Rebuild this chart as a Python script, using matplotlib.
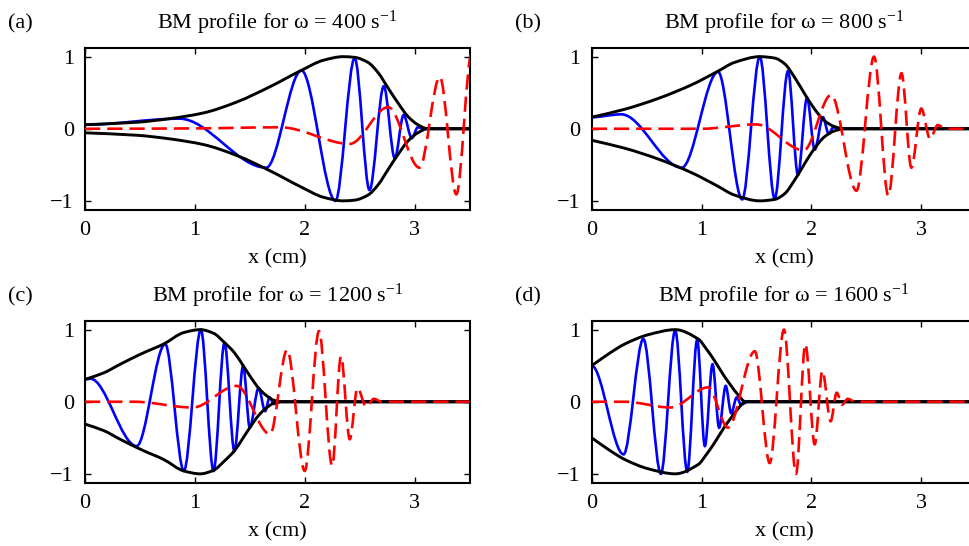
import numpy as np
import matplotlib
matplotlib.use("Agg")
import matplotlib.pyplot as plt
from matplotlib.path import Path
from matplotlib.patches import PathPatch

plt.rcParams['font.family'] = ['Liberation Serif', 'DejaVu Serif']
plt.rcParams['mathtext.fontset'] = 'custom'
plt.rcParams['mathtext.rm'] = 'Liberation Serif'
plt.rcParams['mathtext.it'] = 'Liberation Serif:italic'
plt.rcParams['lines.scale_dashes'] = False

omegas = [400, 800, 1200, 1600]
letters = ['(a)', '(b)', '(c)', '(d)']

# (a) omega = 400: envelope |w|, real part (blue), imaginary part (red, dashed)
a_env_x = [0, 0.47, 0.77, 1.08, 1.38, 1.68, 1.97, 2.17, 2.35, 2.455, 2.576, 2.667, 2.757, 2.848, 2.94, 3.03, 3.12, 3.5]
a_env_y = [0.056, 0.09, 0.14, 0.22, 0.37, 0.58, 0.81, 0.95, 1.0, 0.99, 0.92, 0.78, 0.57, 0.36, 0.17, 0.056, 0.0, 0.0]
a_re_x = [0, 0.86, 1.65, 1.97, 2.28, 2.455, 2.59, 2.72, 2.82, 2.90, 2.975, 3.03, 3.08, 3.5]
a_re_y = [0.056, 0.14, -0.54, 0.81, -1.0, 0.98, -0.85, 0.59, -0.41, 0.19, -0.13, 0.02, 0, 0]
a_im_x = [0, 1.0, 1.78, 2.41, 2.76, 3.045, 3.23, 3.38, 3.52, 3.65]
a_im_y = [0, 0.005, 0.02, -0.21, 0.30, -0.54, 0.72, -0.91, 1.05, 0.0]

# (b) omega = 800
b_env_x = [0, 0.30, 0.605, 0.91, 1.14, 1.30, 1.53, 1.666, 1.757, 1.848, 1.94, 2.03, 2.12, 2.21, 2.3, 3.5]
b_env_y = [0.16, 0.27, 0.42, 0.61, 0.79, 0.92, 1.0, 0.98, 0.90, 0.71, 0.48, 0.27, 0.11, 0.03, 0, 0]
b_re_x = [0, 0.27, 0.82, 1.15, 1.37, 1.53, 1.666, 1.787, 1.878, 1.96, 2.03, 2.105, 2.157, 2.2, 2.25, 3.5]
b_re_y = [0.16, 0.20, -0.54, 0.79, -0.98, 1.0, -0.97, 0.80, -0.64, 0.43, -0.29, 0.16, -0.07, 0.02, 0, 0]
b_im_x = [0, 1.0, 1.5, 1.93, 2.18, 2.41, 2.57, 2.70, 2.82, 2.91, 3.0, 3.08, 3.15, 3.22, 3.5]
b_im_y = [0, 0.0, 0.06, -0.30, 0.47, -0.86, 1.0, -0.93, 0.77, -0.54, 0.28, -0.14, 0.05, 0, 0]

# (c) omega = 1200
c_env_x = [0, 0.17, 0.32, 0.52, 0.715, 0.90, 1.05, 1.17, 1.27, 1.36, 1.44, 1.50, 1.58, 1.64, 1.72, 1.80, 3.5]
c_env_y = [0.31, 0.40, 0.52, 0.67, 0.80, 0.96, 1.0, 0.95, 0.82, 0.68, 0.50, 0.36, 0.19, 0.10, 0.02, 0, 0]
c_re_x = [0, 0.05, 0.47, 0.73, 0.90, 1.055, 1.17, 1.27, 1.36, 1.44, 1.50, 1.58, 1.64, 1.68, 1.72, 1.78, 3.5]
c_re_y = [0.31, 0.32, -0.615, 0.80, -0.96, 1.0, -0.96, 0.82, -0.685, 0.50, -0.36, 0.19, -0.13, 0.06, -0.03, 0, 0]
c_im_x = [0, 0.45, 0.98, 1.38, 1.685, 1.84, 2.0, 2.13, 2.25, 2.33, 2.41, 2.48, 2.56, 2.63, 2.7, 3.5]
c_im_y = [0, 0, -0.08, 0.22, -0.45, 0.72, -0.96, 0.98, -0.89, 0.63, -0.52, 0.19, -0.07, 0.04, 0, 0]

# (d) omega = 1600
d_env_x = [0, 0.15, 0.30, 0.515, 0.76, 0.97, 1.04, 1.12, 1.20, 1.27, 1.33, 1.40, 3.5]
d_env_y = [0.50, 0.66, 0.80, 0.93, 1.0, 0.87, 0.74, 0.565, 0.37, 0.22, 0.10, 0.0, 0.0]
d_re_x = [0, 0.29, 0.47, 0.63, 0.76, 0.87, 0.96, 1.03, 1.10, 1.16, 1.22, 1.27, 1.32, 1.36, 1.42, 3.5]
d_re_y = [0.50, -0.73, 0.87, -1.0, 0.99, -0.97, 0.86, -0.615, 0.52, -0.36, 0.22, -0.16, 0.06, -0.04, 0, 0]
d_im_x = [0, 0.3, 0.72, 1.06, 1.24, 1.485, 1.62, 1.75, 1.86, 1.945, 2.03, 2.10, 2.175, 2.23, 2.28, 2.33, 2.4, 3.5]
d_im_y = [0, 0, -0.08, 0.20, -0.36, 0.70, -0.85, 1.0, -1.0, 0.80, -0.59, 0.43, -0.27, 0.125, -0.04, 0.04, 0, 0]

panels = [
    (a_env_x, a_env_y, a_re_x, a_re_y, a_im_x, a_im_y),
    (b_env_x, b_env_y, b_re_x, b_re_y, b_im_x, b_im_y),
    (c_env_x, c_env_y, c_re_x, c_re_y, c_im_x, c_im_y),
    (d_env_x, d_env_y, d_re_x, d_re_y, d_im_x, d_im_y),
]


def smooth_path(xs, ys, sign=1.0, free_start=False):
    """Cubic Bezier path through the points; flat tangent at turning points."""
    xs = np.asarray(xs, float)
    ys = sign * np.asarray(ys, float)
    n = len(xs)
    m = np.zeros(n)
    for i in range(1, n - 1):
        d0 = (ys[i] - ys[i - 1]) / (xs[i] - xs[i - 1])
        d1 = (ys[i + 1] - ys[i]) / (xs[i + 1] - xs[i])
        if d0 * d1 > 0:
            m[i] = 2.0 / (1.0 / d0 + 1.0 / d1)
    if free_start:
        m[0] = (ys[1] - ys[0]) / (xs[1] - xs[0])
    verts = [(xs[0], ys[0])]
    codes = [Path.MOVETO]
    for i in range(n - 1):
        h = (xs[i + 1] - xs[i]) / 3.0
        verts += [(xs[i] + h, ys[i] + h * m[i]),
                  (xs[i + 1] - h, ys[i + 1] - h * m[i + 1]),
                  (xs[i + 1], ys[i + 1])]
        codes += [Path.CURVE4] * 3
    return Path(verts, codes)


fig = plt.figure(figsize=(9.69, 5.46), dpi=100)

W, H = 969.0, 546.0
# left, top pixel of each axes box
boxes = [(85, 48), (591.7, 48), (85, 321), (591.7, 321)]
aw, ah = 384.5, 161.5

for k, (ex, ey, rx, ry, ix, iy) in enumerate(panels):
    left, top = boxes[k]
    ax = fig.add_axes([left / W, 1 - (top + ah) / H, aw / W, ah / H])
    ax.set_xlim(0, 3.5)
    ax.set_ylim(-1.12, 1.12)

    ax.add_patch(PathPatch(smooth_path(rx, ry), fill=False, ec=(0, 0, 1), lw=1.9, zorder=2))
    for sgn in (1.0, -1.0):
        ax.add_patch(PathPatch(smooth_path(ex, ey, sgn, free_start=True),
                               fill=False, ec='k', lw=2.1, zorder=3))
    ax.add_patch(PathPatch(smooth_path(ix, iy), fill=False, ec=(1, 0, 0), lw=1.9,
                           linestyle=(0, (11, 5)), zorder=4))

    ax.set_xticks([0, 1, 2, 3])
    ax.set_yticks([-1, 0, 1])
    ax.tick_params(direction='in', top=True, right=True, length=4, width=1,
                   labelsize=16, pad=8)
    for s in ax.spines.values():
        s.set_linewidth(1.5)
    ax.set_xlabel('x (cm)', fontsize=16, labelpad=7)
    ax.set_title(r'BM profile for ω = %d s$^{-1}$' % omegas[k], fontsize=16, pad=14)

    lx = 8 if k % 2 == 0 else 515
    fig.text(lx / W, 1 - (top - 20) / H, letters[k], fontsize=16, va='baseline')

fig.savefig('out.png', dpi=100)
